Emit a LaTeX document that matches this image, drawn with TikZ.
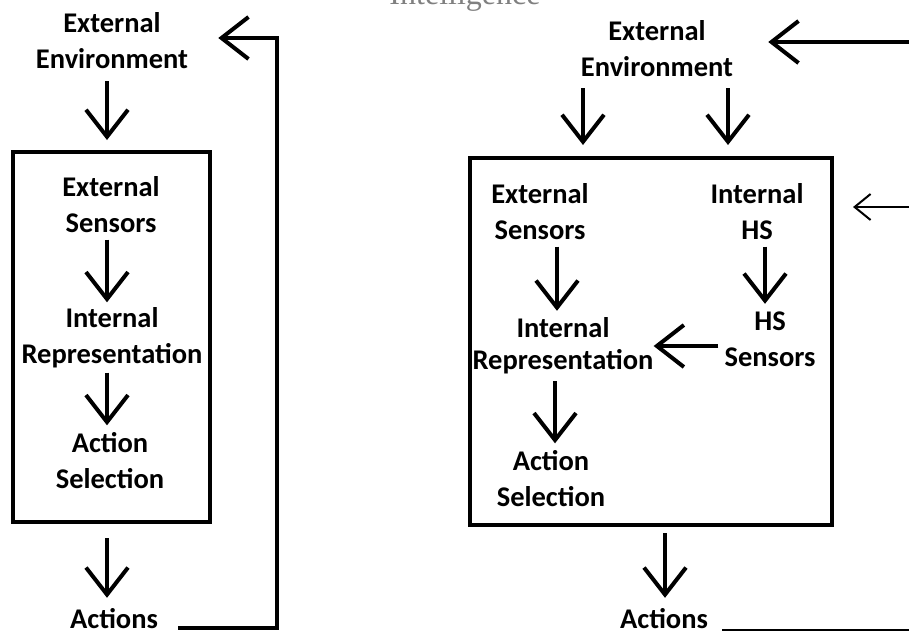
\documentclass[tikz,border=0pt]{standalone}
\usepackage{fontspec}
\setmainfont{Carlito}
\newfontfamily\headserif{Liberation Serif}
\usetikzlibrary{arrows.meta}
\begin{document}
\begin{tikzpicture}[x=1pt,y=-1pt,
  lbl/.style={font=\fontsize{28.5}{36}\selectfont\bfseries, align=center,
              inner sep=0pt, minimum height=70pt},
  frame/.style={draw, line width=4pt, inner sep=0pt, outer sep=0pt},
  arr/.style={line width=4pt, -{Straight Barb[length=27pt,width=42pt]}},
  thinarr/.style={line width=2pt, -{Straight Barb[length=16pt,width=26pt]}},
  feed/.style={line width=2.5pt}]
\clip (0,0) rectangle (909,635);

% heading, mostly cut off by the top edge
\node[anchor=base, text=black!50, font=\headserif\fontsize{32}{36}\selectfont] (head) at (465,4) {Intelligence};

% ---------------- left model ----------------
\coordinate (colL) at (107,0);
\coordinate (lret) at (277,38);
\node[lbl, minimum height=80pt] (lenv) at (112,41) {External\\Environment};
\node[frame, minimum width=197pt, minimum height=370pt] (lbox) at (111.5,337) {};
\node[lbl] (les) at (111,204.5) {External\\Sensors};
\node[lbl] (lir) at (112,337.5) {Internal\\Representation};
\node[lbl] (las) at (110,460.5) {Action\\Selection};
\node[lbl, minimum height=42pt] (lact) at (114,619) {Actions};

\draw[arr, shorten >=12pt] (lenv.south -| colL) -- (lbox.north -| colL);
\draw[arr] (les.south -| colL) -- (lir.north -| colL);
\draw[arr] (lir.south -| colL) -- (las.north -| colL);
\draw[arr, shorten <=16pt] (lbox.south -| colL) -- (lact.north -| colL);
\draw[arr, shorten <=20pt, shorten >=30pt] ([yshift=-9pt]lact.east) -| (lret) -- (lenv.east |- lret);

% ---------------- right model ----------------
\coordinate (colA) at (583,0);
\coordinate (colB) at (728,0);
\coordinate (colC) at (557,0);
\coordinate (colD) at (765,0);
\coordinate (colE) at (555,0);
\coordinate (colF) at (665,0);
\coordinate (rtop) at (915,42);
\coordinate (rhs) at (915,207);
\coordinate (rbot) at (915,630);

\node[lbl, minimum height=78pt] (renv) at (657,49) {External\\Environment};
\node[frame, minimum width=362pt, minimum height=367pt] (rbox) at (651,341.5) {};
\node[lbl] (res) at (540,211.5) {External\\Sensors};
\node[lbl] (rih) at (757,211.5) {Internal\\HS};
\node[lbl] (rhss) at (770,339) {HS\\Sensors};
\node[lbl, font=\fontsize{28.5}{32}\selectfont\bfseries] (rir) at (563,346) {Internal\\Representation};
\node[lbl] (ras) at (551,478.5) {Action\\Selection};
\node[lbl, minimum height=42pt] (ract) at (664,619) {Actions};

\draw[arr, shorten >=13pt] (renv.south -| colA) -- (rbox.north -| colA);
\draw[arr, shorten >=13pt] (renv.south -| colB) -- (rbox.north -| colB);
\draw[arr] (res.south -| colC) -- (rir.north -| colC);
\draw[arr] (rih.south -| colD) -- (rhss.north -| colD);
\draw[arr, shorten <=6pt] (rhss.west |- rir) -- (rir.east);
\draw[arr] (rir.south -| colE) -- (ras.north -| colE);
\draw[arr, shorten <=8pt] (rbox.south -| colF) -- (ract.north -| colF);

\draw[arr, shorten >=35pt] (rtop) -- (renv.east |- rtop);
\draw[thinarr, shorten >=21pt] (rhs) -- (rbox.east |- rhs);
\draw[feed, shorten <=14pt] ([yshift=-11pt]ract.east) -- (rbot);
\end{tikzpicture}
\end{document}
